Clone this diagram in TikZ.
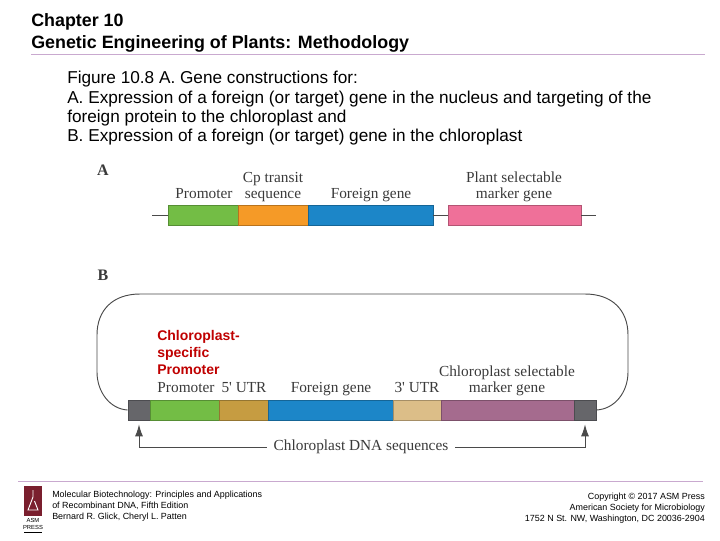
\documentclass[tikz,border=0pt]{standalone}
\usepackage{fontspec}
\setmainfont{Liberation Serif}
\setsansfont{Liberation Sans}
\usetikzlibrary{arrows.meta}
\definecolor{rulepurple}{HTML}{C9A9CF}
\definecolor{linegray}{HTML}{4A4A4A}
\definecolor{labelgray}{HTML}{3A3A3A}
\definecolor{capgray}{HTML}{66666A}
\definecolor{asmred}{HTML}{7A1F2E}
\tikzset{
  gene/.style={draw=#1!75!black, line width=0.6pt, fill=#1, inner sep=0pt, minimum height=20*0.75pt},
  fig/.style={font=\fontsize{11.5}{12}\selectfont, text=labelgray, inner sep=0pt, align=center, anchor=base},
  head/.style={font=\sffamily\bfseries\fontsize{13.4}{16}\selectfont, anchor=base west, inner sep=0pt},
  body/.style={font=\sffamily\fontsize{12.9}{14}\selectfont, anchor=base west, inner sep=0pt},
  foot/.style={font=\sffamily\fontsize{6.7}{8.25}\selectfont, inner sep=0pt},
  wire/.style={draw=linegray, line width=0.7pt},
}
\definecolor{cpgreen}{HTML}{73BD45}
\definecolor{cporange}{HTML}{F59A27}
\definecolor{cpblue}{HTML}{1C86C8}
\definecolor{cppink}{HTML}{EF7099}
\definecolor{cptan}{HTML}{C69C41}
\definecolor{cpsand}{HTML}{DCBE88}
\definecolor{cpmauve}{HTML}{A56B8E}
\begin{document}
\begin{tikzpicture}[x=0.75pt,y=-0.75pt]
\useasboundingbox (0,0) rectangle (720,540);
% heading
\node[head] (chapter) at (31,26) {Chapter 10};
\node[head] (title) at (31,48) {Genetic Engineering of Plants: Methodology};
\coordinate (ruleTL) at (31,54);
\coordinate (ruleTR) at (705,54);
\draw[rulepurple, line width=0.5pt] (ruleTL)--(ruleTR);
\node[body] (cap1) at (67,83) {Figure 10.8 A. Gene constructions for:};
\node[body] (cap2) at (67,103) {A. Expression of a foreign (or target) gene in the nucleus and targeting of the};
\node[body] (cap3) at (67,122) {foreign protein to the chloroplast and};
\node[body] (cap4) at (67,141) {B. Expression of a foreign (or target) gene in the chloroplast};
% panel A
\node[fig, font=\bfseries\fontsize{12}{14}\selectfont] (panelA) at (103,175) {A};
\coordinate (aL) at (152,215);
\coordinate (aR) at (596,215);
\node[gene=cpgreen, minimum width=70*0.75pt] (aprom) at (203,215) {};
\node[gene=cporange, minimum width=70*0.75pt] (atransit) at (273,215) {};
\node[gene=cpblue, minimum width=125*0.75pt] (aforeign) at (370.5,215) {};
\node[gene=cppink, minimum width=133*0.75pt] (amarker) at (514.5,215) {};
\draw[wire] (aL)--(aprom.west);
\draw[wire] (aforeign.east)--(amarker.west);
\draw[wire] (amarker.east)--(aR);
\node[fig] (lprom) at (204,198) {Promoter};
\node[fig] (ltransit) at (273,198) {Cp transit\\sequence};
\node[fig] (lforeign) at (371,198) {Foreign gene};
\node[fig] (lmarker) at (514,198) {Plant selectable\\marker gene};
% panel B
\node[fig, font=\bfseries\fontsize{12}{14}\selectfont] (panelB) at (103,280) {B};
\node[gene=capgray, minimum width=22*0.75pt] (capL) at (139,410) {};
\node[gene=cpgreen, minimum width=69*0.75pt] (bprom) at (184.5,410) {};
\node[gene=cptan, minimum width=49*0.75pt] (butr5) at (243.5,410) {};
\node[gene=cpblue, minimum width=125*0.75pt] (bforeign) at (330.5,410) {};
\node[gene=cpsand, minimum width=48*0.75pt] (butr3) at (417,410) {};
\node[gene=cpmauve, minimum width=133*0.75pt] (bmarker) at (507.5,410) {};
\node[gene=capgray, minimum width=22*0.75pt] (capR) at (585,410) {};
\draw[wire] (capL.west) .. controls (110,409) and (97,392) .. (97,372)
  -- (97,335) .. controls (97,310) and (113,294) .. (140,294)
  -- (585,294) .. controls (612,294) and (628,310) .. (628,335)
  -- (628,372) .. controls (628,392) and (615,409) .. (capR.east);
\node[fig] (mprom) at (186,392) {Promoter};
\node[fig] (mutr5) at (244,392) {5\textquotesingle{} UTR};
\node[fig] (mforeign) at (331,392) {Foreign gene};
\node[fig] (mutr3) at (417,392) {3\textquotesingle{} UTR};
\node[fig] (mmarker) at (507,392) {Chloroplast selectable\\marker gene};
\node[fig, fill=white, inner xsep=5pt, anchor=center] (dnaseq) at (361,447) {Chloroplast DNA sequences};
\draw[wire, -{Latex[length=9pt,width=6pt]}] (dnaseq.west) -| ([yshift=-3pt]capL.south);
\draw[wire, -{Latex[length=9pt,width=6pt]}] (dnaseq.east) -| ([yshift=-3pt]capR.south);
\node[font=\sffamily\bfseries\fontsize{10.5}{12.75}\selectfont, text=red!75!black, anchor=north west, align=left, inner sep=0pt] (cpnote) at (157,330) {Chloroplast-\\specific\\Promoter};
% footer
\coordinate (ruleBL) at (18,481);
\coordinate (ruleBR) at (703,481);
\draw[rulepurple, line width=0.5pt] (ruleBL)--(ruleBR);
\node[fill=asmred, minimum width=18*0.75pt, minimum height=30*0.75pt, inner sep=0pt] (logo) at (33,501) {};
\draw[white, line width=0.7pt] (33,490)--(33,497)--(28,510)--(38,510)--(34.5,501);
\node[font=\sffamily\fontsize{4.4}{5}\selectfont, align=center, inner sep=0pt] (press) at (33,524) {ASM\\PRESS};
\coordinate (pressL) at (24,532);
\coordinate (pressR) at (42,532);
\draw[black, line width=0.4pt] (pressL)--(pressR);
\node[foot, anchor=north west, align=left] (bookref) at (52,491) {Molecular Biotechnology: Principles and Applications\\of Recombinant DNA, Fifth Edition\\Bernard R. Glick, Cheryl L. Patten};
\node[foot, anchor=north east, align=right] (copyref) at (705,493) {Copyright © 2017 ASM Press\\American Society for Microbiology\\1752 N St. NW, Washington, DC 20036-2904};
\end{tikzpicture}
\end{document}
